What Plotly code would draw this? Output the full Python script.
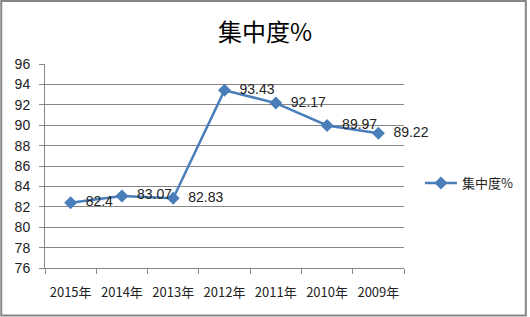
import plotly.graph_objects as go

categories = ["2015年", "2014年", "2013年", "2012年", "2011年", "2010年", "2009年"]
values = [82.4, 83.07, 82.83, 93.43, 92.17, 89.97, 89.22]
labels = ["82.4", "83.07", "82.83", "93.43", "92.17", "89.97", "89.22"]
series_name = "集中度%"
y_ticks = list(range(76, 97, 2))

W, H = 530, 317
L, R, T, B = 45, 124, 64, 49
pw, ph = W - L - R, H - T - B

fig = go.Figure()
fig.add_trace(go.Scatter(
    x=categories, y=values, mode="lines+markers+text",
    name=series_name, text=["  " + s for s in labels], textposition="middle right",
    textfont=dict(size=14, color="#222222", family="Liberation Sans, Arial"),
    line=dict(color="#4A7EBB", width=2.5),
    marker=dict(symbol="diamond", size=10, color="#4A7EBB"),
    cliponaxis=False,
))

fig.update_layout(
    width=W, height=H,
    margin=dict(l=L, r=R, t=T, b=B),
    paper_bgcolor="white", plot_bgcolor="white",
    title=dict(text=series_name, x=0.5, xref="container", xanchor="center",
               y=1 - 33 / H, yanchor="middle",
               font=dict(size=24, color="black", family="Noto Sans CJK SC")),
    xaxis=dict(type="category", tickson="boundaries", ticks="outside", ticklen=5,
               tickcolor="#868686", showline=True, linecolor="#868686", linewidth=1,
               showgrid=False, ticklabelstandoff=12,
               tickfont=dict(size=13, color="#222222", family="Noto Sans CJK SC"),
               range=[-0.5, 6.5]),
    yaxis=dict(range=[76, 96], tickvals=y_ticks, ticks="outside", ticklen=5,
               tickcolor="#868686", showline=True, linecolor="#868686", linewidth=1,
               showgrid=True, gridcolor="#868686", gridwidth=1, zeroline=False,
               ticklabelstandoff=6,
               tickfont=dict(size=14, color="#222222", family="Liberation Sans, Arial")),
    showlegend=True,
    legend=dict(x=(422 - L) / pw, xanchor="left", y=(268 - 183) / ph, yanchor="middle",
                font=dict(size=13, color="#222222", family="Noto Sans CJK SC"),
                bgcolor="rgba(0,0,0,0)", itemwidth=32),
)

fig.add_shape(type="rect", xref="paper", yref="paper",
              x0=(1 - L) / pw, x1=(W - 1.5 - L) / pw,
              y0=(H - B - (H - 1.5)) / ph, y1=(H - B - 1) / ph,
              line=dict(color="#868686", width=2), fillcolor="rgba(0,0,0,0)", layer="below")

fig.write_html("out.html")
